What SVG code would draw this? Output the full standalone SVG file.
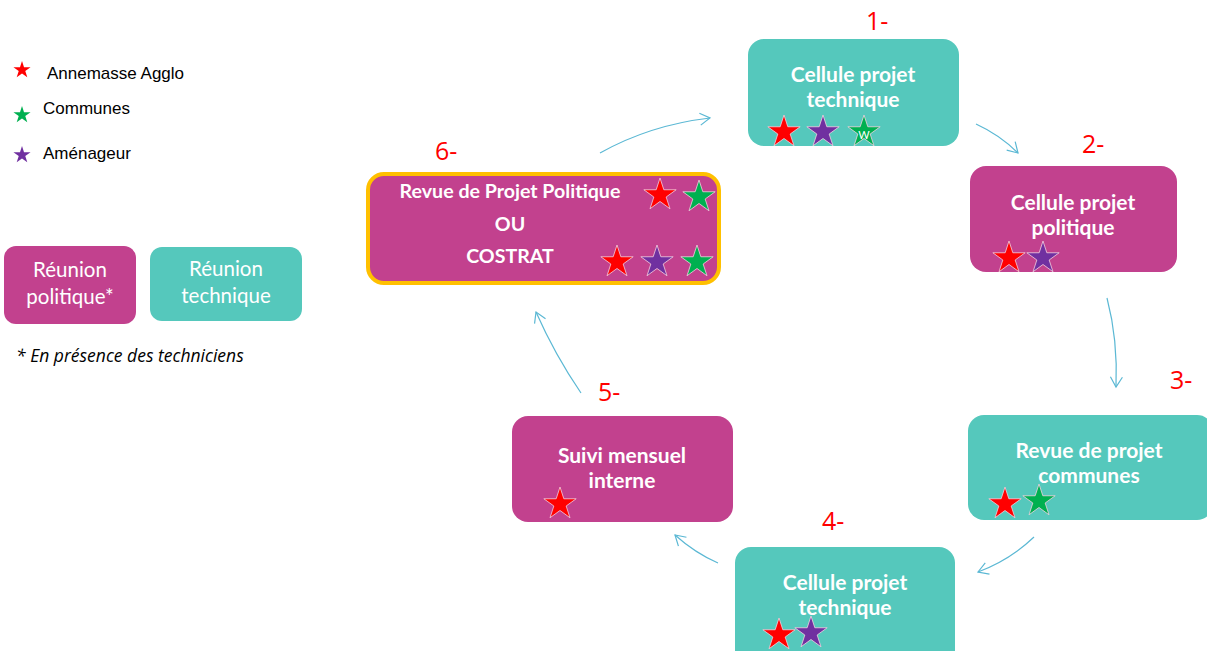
<svg xmlns="http://www.w3.org/2000/svg" xmlns:xlink="http://www.w3.org/1999/xlink" width="1207" height="651" viewBox="0 0 1207 651">
<style>
.pol{fill:#C2418E}
.tec{fill:#55C8BC}
.nt{font-family:Lato,"Open Sans",sans-serif;font-weight:bold;font-size:21px;fill:#fff;text-anchor:middle}
.nt6{font-size:19.6px}
.lt{font-family:Lato,"Open Sans",sans-serif;font-size:20.5px;fill:#fff;text-anchor:middle}
.num{font-family:"Open Sans","Liberation Sans",sans-serif;font-size:25px;fill:#FF0000}
.leg{font-family:"Liberation Sans",Arial,sans-serif;font-size:17px;fill:#000}
.r{fill:#FF0000}.g{fill:#00B050}.p{fill:#7030A0}
.st{stroke:#F2D0E0;stroke-width:0.8}
.con{fill:none;stroke:#5BB8D4;stroke-width:1.2;marker-end:url(#arr)}
</style>
<defs>
<path id="star" d="M0,-17 L3.82,-5.25 L16.17,-5.25 L6.17,2.01 L10,13.75 L0,6.49 L-10,13.75 L-6.17,2.01 L-16.17,-5.25 L-3.82,-5.25 Z"/>
<path id="sstar" d="M0,-9 L2.02,-2.78 L8.56,-2.78 L3.27,1.06 L5.29,7.28 L0,3.44 L-5.29,7.28 L-3.27,1.06 L-8.56,-2.78 L-2.02,-2.78 Z"/>
<marker id="arr" markerWidth="14" markerHeight="14" refX="12" refY="7" orient="auto" markerUnits="userSpaceOnUse">
<path d="M2,1 L12,7 L2,13" fill="none" stroke="#5BB8D4" stroke-width="1.2"/>
</marker>
</defs>

<g id="legend">
<use xlink:href="#sstar" x="22" y="70" class="r"/>
<text x="47" y="79" class="leg">Annemasse Agglo</text>
<use xlink:href="#sstar" x="22" y="115" class="g"/>
<text x="43" y="114" class="leg">Communes</text>
<use xlink:href="#sstar" x="22" y="155" class="p"/>
<text x="43" y="159" class="leg">Aménageur</text>
</g>
<g id="legend-politique">
<rect x="4" y="246" width="132" height="78" rx="12" class="pol"/>
<text x="70" y="277" class="lt">Réunion</text>
<text x="70" y="304" class="lt">politique*</text>
</g>
<g id="legend-technique">
<rect x="150" y="247" width="152" height="74" rx="12" class="tec"/>
<text x="226" y="276" class="lt">Réunion</text>
<text x="226" y="303" class="lt">technique</text>
</g>
<text x="16" y="362" font-family="'Open Sans','Liberation Sans',sans-serif" font-style="italic" font-size="17.5" fill="#000">* En présence des techniciens</text>

<g id="connectors">
<path class="con" d="M600,153 Q650,125 710,118"/>
<path class="con" d="M976,124 Q1000,135 1018,153"/>
<path class="con" d="M1107,298 Q1118,340 1116,387"/>
<path class="con" d="M1034,537 Q1010,560 978,572"/>
<path class="con" d="M718,563 Q695,553 675,535"/>
<path class="con" d="M581,393 Q555,355 536,312"/>
</g>

<g id="node1">
<rect x="748" y="39" width="211" height="107" rx="16" class="tec"/>
<text x="853" y="82" class="nt">Cellule projet</text>
<text x="853" y="107" class="nt">technique</text>
<use xlink:href="#star" x="784" y="132" class="r st"/>
<use xlink:href="#star" x="823" y="132" class="p st"/>
<use xlink:href="#star" x="864" y="132" class="g st"/>
<text x="864" y="139" font-family="Lato,sans-serif" font-size="11" fill="#fff" text-anchor="middle">W</text>
<text x="866" y="30" class="num">1-</text>
</g>

<g id="node2">
<rect x="970" y="166" width="207" height="106" rx="16" class="pol"/>
<text x="1073" y="210" class="nt">Cellule projet</text>
<text x="1073" y="235" class="nt">politique</text>
<use xlink:href="#star" x="1009" y="258" class="r st"/>
<use xlink:href="#star" x="1043" y="258" class="p st"/>
<text x="1082" y="153" class="num">2-</text>
</g>

<g id="node3">
<rect x="968" y="415" width="245" height="105" rx="16" class="tec"/>
<text x="1089" y="458" class="nt">Revue de projet</text>
<text x="1089" y="483" class="nt">communes</text>
<use xlink:href="#star" x="1005" y="504" class="r st"/>
<use xlink:href="#star" x="1039" y="501" class="g st"/>
<text x="1170" y="389" class="num">3-</text>
</g>

<g id="node4">
<rect x="735" y="547" width="220" height="120" rx="16" class="tec"/>
<text x="845" y="590" class="nt">Cellule projet</text>
<text x="845" y="615" class="nt">technique</text>
<use xlink:href="#star" x="779" y="635" class="r st"/>
<use xlink:href="#star" x="811" y="633" class="p st"/>
<text x="822" y="530" class="num">4-</text>
</g>

<g id="node5">
<rect x="512" y="416" width="221" height="106" rx="16" class="pol"/>
<text x="622" y="463" class="nt">Suivi mensuel</text>
<text x="622" y="488" class="nt">interne</text>
<use xlink:href="#star" x="560" y="504" class="r st"/>
<text x="598" y="401" class="num">5-</text>
</g>

<g id="node6">
<rect x="368" y="174" width="351" height="109" rx="16" class="pol" stroke="#FFC000" stroke-width="4"/>
<text x="510" y="198" class="nt nt6">Revue de Projet Politique</text>
<text x="510" y="231" class="nt nt6">OU</text>
<text x="510" y="263" class="nt nt6">COSTRAT</text>
<use xlink:href="#star" x="660" y="195" class="r st"/>
<use xlink:href="#star" x="699" y="197" class="g st"/>
<use xlink:href="#star" x="617" y="262" class="r st"/>
<use xlink:href="#star" x="657" y="262" class="p st"/>
<use xlink:href="#star" x="697" y="262" class="g st"/>
<text x="435" y="160" class="num">6-</text>
</g>
</svg>
